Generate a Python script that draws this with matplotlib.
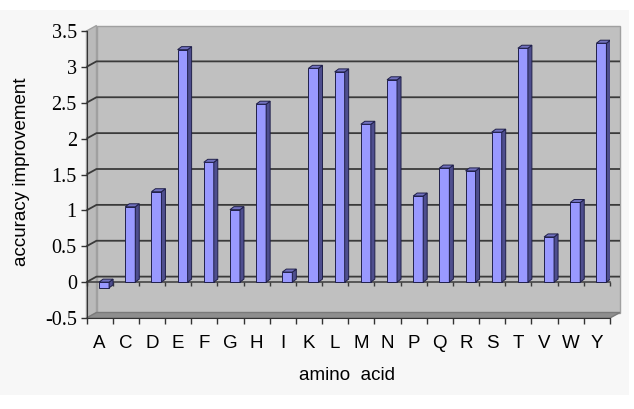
import matplotlib
matplotlib.use('Agg')
import matplotlib.pyplot as plt
from matplotlib.patches import Rectangle, Polygon

# ==========================================================
# DADOS
# ==========================================================
aminoacidos = ['A', 'C', 'D', 'E', 'F', 'G', 'H', 'I', 'K', 'L',
               'M', 'N', 'P', 'Q', 'R', 'S', 'T', 'V', 'W', 'Y']
melhoria = [-0.08, 1.05, 1.26, 3.24, 1.67, 1.01, 2.48, 0.14, 2.98, 2.93,
            2.20, 2.82, 1.20, 1.59, 1.55, 2.09, 3.26, 0.63, 1.11, 3.33]
ticks_y = [-0.5, 0, 0.5, 1, 1.5, 2, 2.5, 3, 3.5]

# ==========================================================
# FIGURA
# ==========================================================
W, H = 634, 409
fig = plt.figure(figsize=(W / 100, H / 100), dpi=100)
fig.patch.set_facecolor('white')
# area do grafico (cinza bem claro)
fig.patches.append(Rectangle((0, 14 / H), 629 / W, 385 / H, transform=fig.transFigure,
                             facecolor='#f7f7f7', edgecolor='none', zorder=-10))

esq, dir_, topo, base = 86.5, 610, 31, 318
ax = fig.add_axes([esq / W, (H - base) / H, (dir_ - esq) / W, (base - topo) / H])
n = len(aminoacidos)
ax.set_xlim(-0.5, n - 0.5)
ax.set_ylim(ticks_y[0], ticks_y[-1])
ax.patch.set_visible(False)

# pixels por unidade de dado
px_x = (dir_ - esq) / n
px_y = (base - topo) / (ticks_y[-1] - ticks_y[0])
dx, dy = 10 / px_x, 5.5 / px_y      # profundidade da parede
x0, x1 = -0.5, n - 0.5
y0, y1 = ticks_y[0], ticks_y[-1]

# parede do fundo, parede lateral e piso
ax.add_patch(Rectangle((x0 + dx, y0 + dy), x1 - x0, y1 - y0, facecolor='#c0c0c0',
                       edgecolor='#a0a0a0', lw=1, zorder=0, clip_on=False))
ax.add_patch(Polygon([(x0, y0), (x0, y1), (x0 + dx, y1 + dy), (x0 + dx, y0 + dy)],
                     facecolor='#bababa', edgecolor='#a0a0a0', lw=1, zorder=0.5, clip_on=False))
ax.add_patch(Polygon([(x0, y0), (x1, y0), (x1 + dx, y0 + dy), (x0 + dx, y0 + dy)],
                     facecolor='#8e8e8e', edgecolor='#7a7a7a', lw=1, zorder=0.6, clip_on=False))

# linhas de grade (parede lateral + fundo)
for v in ticks_y[1:-1]:
    ax.plot([x0, x0 + dx, x1 + dx], [v, v + dy, v + dy], color='#3a3a3a', lw=1.3,
            zorder=1, clip_on=False, solid_capstyle='butt')

# linha do zero na frente, com marcas
ax.plot([x0, x1], [0, 0], color='#3a3a3a', lw=1.1, zorder=2, clip_on=False)
limites = [i - 0.5 for i in range(n + 1)]
ax.vlines(limites, 0, -4 / px_y, color='#3a3a3a', lw=1, zorder=2, clip_on=False)

# ==========================================================
# BARRAS 3D
# ==========================================================
xs = list(range(n))
off = 4.5 / px_x
bw = 10 / px_x
bdx, bdy = 4 / px_x, 3 / px_y
xb = [x + off for x in xs]
ax.bar(xb, melhoria, width=bw, color='#9999ff', edgecolor='#20204a', lw=0.7, zorder=3)
for x, h in zip(xb, melhoria):
    xl, xr = x - bw / 2, x + bw / 2
    top, bot = max(h, 0), min(h, 0)
    ax.add_patch(Polygon([(xr, bot), (xr, top), (xr + bdx, top + bdy), (xr + bdx, bot + bdy)],
                         facecolor='#4e4e8e', edgecolor='#20204a', lw=0.7, zorder=3))
    ax.add_patch(Polygon([(xl, top), (xr, top), (xr + bdx, top + bdy), (xl + bdx, top + bdy)],
                         facecolor='#7272c0', edgecolor='#20204a', lw=0.7, zorder=3))

# ==========================================================
# EIXOS
# ==========================================================
for lado in ['top', 'right']:
    ax.spines[lado].set_visible(False)
ax.spines['left'].set_color('#333333')
ax.spines['bottom'].set_color('#333333')
ax.spines['left'].set_zorder(4)
ax.spines['bottom'].set_zorder(4)

ax.set_yticks(ticks_y)
ax.set_yticklabels([f'{v:g}' for v in ticks_y], fontfamily='Liberation Serif', fontsize=14.5)
ax.tick_params(axis='y', direction='out', length=4, width=1, pad=3, color='#333333')

ax.set_xticks(xs)
ax.set_xticklabels(aminoacidos, fontfamily='Liberation Sans', fontsize=13.5)
ax.set_xticks(limites, minor=True)
ax.tick_params(axis='x', which='major', length=0, pad=12)
ax.tick_params(axis='x', which='minor', direction='out', length=4, width=1, color='#333333')

fig.text(22 / W, 1 - 172 / H, 'accuracy improvement', rotation=90, ha='center', va='center',
         fontfamily='Liberation Sans', fontsize=13.5)
fig.text(347 / W, 1 - 380 / H, 'amino  acid', ha='center', va='baseline',
         fontfamily='Liberation Sans', fontsize=13.5)

plt.savefig('out.png', dpi=100)
plt.close()
